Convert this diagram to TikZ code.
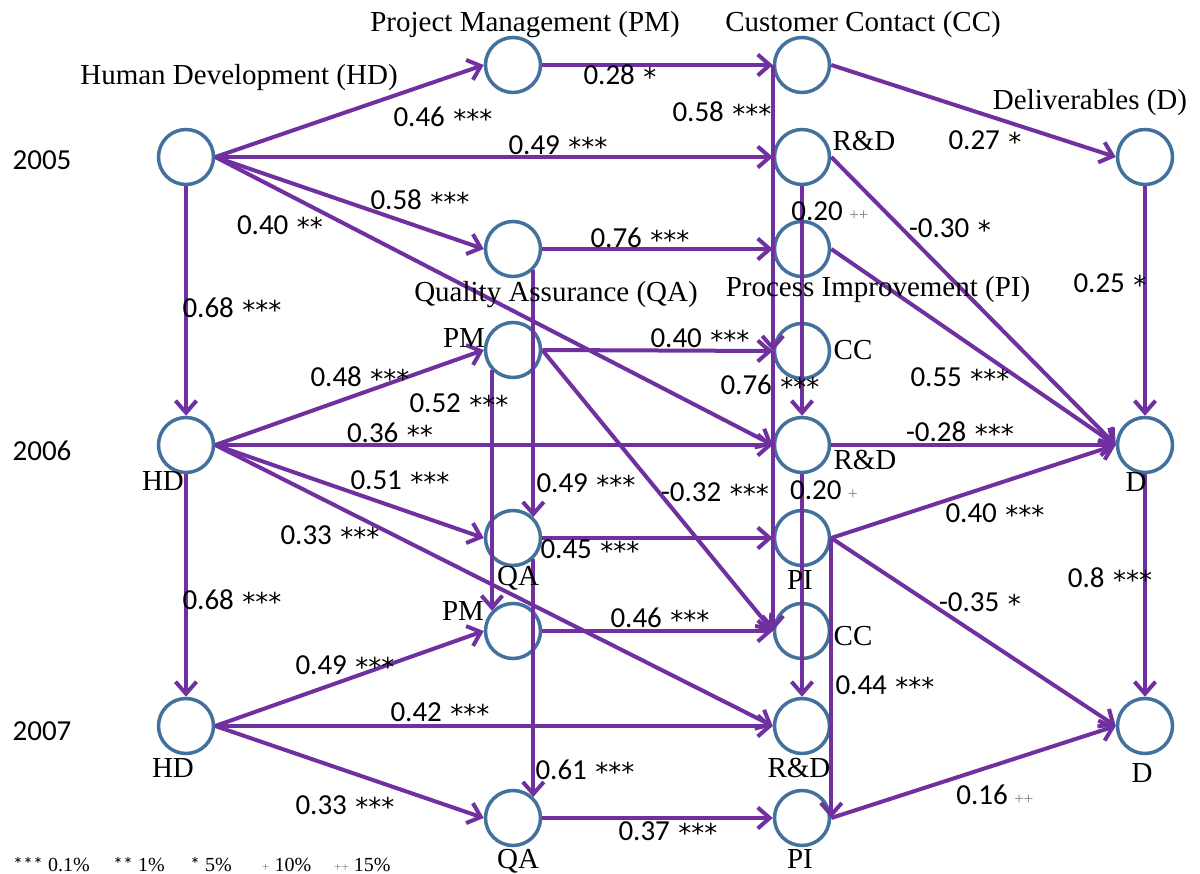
\documentclass[tikz,border=0pt]{standalone}
\usepackage{fontspec}
\setmainfont{Liberation Serif}
\newfontfamily\calfont{Carlito}
\newfontfamily\djv{DejaVu Sans}
\usetikzlibrary{arrows.meta}
\definecolor{pur}{HTML}{7030A0}
\definecolor{nblue}{HTML}{41719C}
\definecolor{pgray}{HTML}{7F7F7F}
\newcommand{\pp}{{\rmfamily\fontsize{17}{17}\selectfont\color{pgray}++}}
\newcommand{\p}{{\rmfamily\fontsize{17}{17}\selectfont\color{pgray}+}}
\newcommand{\sk}[1]{\hspace{2pt}\raisebox{-2.5pt}{\djv\fontsize{26}{26}\selectfont #1}}
\begin{document}
\begin{tikzpicture}[x=1pt,y=-1pt,
  circnode/.style={circle,draw=nblue,line width=3.5pt,minimum size=55pt,inner sep=0pt},
  edge/.style={draw=pur,line width=4pt,line join=round,-{Straight Barb[length=12pt,width=21pt]}},
  numlab/.style={font=\calfont\fontsize{29}{34}\selectfont,inner sep=0pt,anchor=mid,yshift=-7pt},
  nmlab/.style={font=\fontsize{29}{34}\selectfont,inner sep=0pt,anchor=mid,yshift=-7pt},
  leglab/.style={font=\fontsize{20}{20}\selectfont,inner sep=0pt,anchor=base west}
]
\useasboundingbox (0,0) rectangle (1200,874);

% nodes
\node[circnode] (hd5) at (186,157) {};
\node[circnode] (pm5) at (513,65) {};
\node[circnode] (qa5) at (513,249) {};
\node[circnode] (cc5) at (802,65) {};
\node[circnode] (rd5) at (802,157) {};
\node[circnode] (pi5) at (802,249) {};
\node[circnode] (d5) at (1145,157) {};

\node[circnode] (hd6) at (186,445) {};
\node[circnode] (pm6) at (513,350) {};
\node[circnode] (qa6) at (513,538) {};
\node[circnode] (cc6) at (802,351) {};
\node[circnode] (rd6) at (802,445) {};
\node[circnode] (pi6) at (802,538) {};
\node[circnode] (d6) at (1145,445) {};

\node[circnode] (hd7) at (186,726) {};
\node[circnode] (pm7) at (513,631) {};
\node[circnode] (qa7) at (513,818) {};
\node[circnode] (cc7) at (802,631) {};
\node[circnode] (rd7) at (802,726) {};
\node[circnode] (pi7) at (802,818) {};
\node[circnode] (d7) at (1145,726) {};

% edges 2005
\draw[edge] (hd5.east) -- (pm5.west);
\draw[edge] (hd5.east) -- (rd5.west);
\draw[edge] (hd5.east) -- (qa5.west);
\draw[edge] (hd5.east) -- (rd6.west);
\draw[edge] (pm5.east) -- (cc5.west);
\draw[edge] (qa5.east) -- (pi5.west);
\draw[edge] (cc5.east) -- (d5.west);
\draw[edge] (rd5.east) -- (d6.west);
\draw[edge] (pi5.east) -- (d6.west);
\draw[edge] (hd5.south) -- (hd6.north);
\draw[edge] (cc5.west) -- (cc6.west);
\draw[edge] (rd5.south) -- (rd6.north);
\draw[edge] (qa5.314) -- (qa6.46);
\draw[edge] (d5.south) -- (d6.north);

% edges 2006
\draw[edge] (hd6.east) -- (pm6.west);
\draw[edge] (hd6.east) -- (rd6.west);
\draw[edge] (hd6.east) -- (qa6.west);
\draw[edge] (hd6.east) -- (rd7.west);
\draw[edge] (pm6.east) -- (cc6.west);
\draw[edge] (pm6.east) -- (cc7.west);
\draw[edge] (qa6.east) -- (pi6.west);
\draw[edge] (rd6.east) -- (d6.west);
\draw[edge] (pi6.east) -- (d6.west);
\draw[edge] (pi6.east) -- (d7.west);
\draw[edge] (hd6.south) -- (hd7.north);
\draw[edge] (pm6.224) -- (pm7.136);
\draw[edge] (qa6.314) -- (qa7.46);
\draw[edge] (cc6.west) -- (cc7.west);
\draw[edge] (rd6.south) -- (rd7.north);
\draw[edge] (pi6.east) -- (pi7.east);
\draw[edge] (d6.south) -- (d7.north);

% edges 2007
\draw[edge] (hd7.east) -- (pm7.west);
\draw[edge] (hd7.east) -- (rd7.west);
\draw[edge] (hd7.east) -- (qa7.west);
\draw[edge] (pm7.east) -- (cc7.west);
\draw[edge] (qa7.east) -- (pi7.west);
\draw[edge] (pi7.east) -- (d7.west);

% years
\node[numlab] (y5) at (42,160) {2005};
\node[numlab] (y6) at (42,451) {2006};
\node[numlab] (y7) at (42,731) {2007};

% names
\node[nmlab] (nhd) at (239,75) {Human Development (HD)};
\node[nmlab] (npm) at (525,22) {Project Management (PM)};
\node[nmlab] (ncc) at (863,22) {Customer Contact (CC)};
\node[nmlab] (ndl) at (1090,100) {Deliverables (D)};
\node[nmlab] (nrd5) at (864,141) {R\&D};
\node[nmlab] (nqa) at (556,292) {Quality Assurance (QA)};
\node[nmlab] (npi) at (878,287) {Process Improvement (PI)};
\node[nmlab] (npm6) at (464,338) {PM};
\node[nmlab] (ncc6) at (853,350) {CC};
\node[nmlab] (nhd6) at (163,481) {HD};
\node[nmlab] (nrd6) at (865,460) {R\&D};
\node[nmlab] (nd6) at (1136,482) {D};
\node[nmlab] (nqa6) at (518,576) {QA};
\node[nmlab] (npi6) at (800,580) {PI};
\node[nmlab] (npm7) at (463,611) {PM};
\node[nmlab] (ncc7) at (853,636) {CC};
\node[nmlab] (nhd7) at (173,768) {HD};
\node[nmlab] (nrd7) at (799,768) {R\&D};
\node[nmlab] (nd7) at (1142,773) {D};
\node[nmlab] (nqa7) at (518,859) {QA};
\node[nmlab] (npi7) at (800,859) {PI};

% edge labels
\node[numlab] at (443,117) {0.46 \sk{***}};
\node[numlab] at (558,145) {0.49 \sk{***}};
\node[numlab] at (420,200) {0.58 \sk{***}};
\node[numlab] at (280,225) {0.40 \sk{**}};
\node[numlab] at (620,75) {0.28 \sk{*}};
\node[numlab] at (722,112) {0.58 \sk{***}};
\node[numlab] at (985,140) {0.27 \sk{*}};
\node[numlab] at (830,211) {0.20 \pp};
\node[numlab] at (950,228) {-0.30 \sk{*}};
\node[numlab] at (640,238) {0.76 \sk{***}};
\node[numlab] at (1110,283) {0.25 \sk{*}};
\node[numlab] at (232,308) {0.68 \sk{***}};
\node[numlab] at (360,377) {0.48 \sk{***}};
\node[numlab] at (700,338) {0.40 \sk{***}};
\node[numlab] at (459,403) {0.52 \sk{***}};
\node[numlab] at (960,377) {0.55 \sk{***}};
\node[numlab] at (770,385) {0.76 \sk{***}};
\node[numlab] at (390,433) {0.36 \sk{**}};
\node[numlab] at (960,432) {-0.28 \sk{***}};
\node[numlab] at (400,480) {0.51 \sk{***}};
\node[numlab] at (586,483) {0.49 \sk{***}};
\node[numlab] at (715,492) {-0.32 \sk{***}};
\node[numlab] at (824,490) {0.20 \p};
\node[numlab] at (330,535) {0.33 \sk{***}};
\node[numlab] at (995,513) {0.40 \sk{***}};
\node[numlab] at (590,549) {0.45 \sk{***}};
\node[numlab] at (232,600) {0.68 \sk{***}};
\node[numlab] at (980,602) {-0.35 \sk{*}};
\node[numlab] at (1110,578) {0.8 \sk{***}};
\node[numlab] at (660,618) {0.46 \sk{***}};
\node[numlab] at (345,665) {0.49 \sk{***}};
\node[numlab] at (885,685) {0.44 \sk{***}};
\node[numlab] at (440,712) {0.42 \sk{***}};
\node[numlab] at (585,770) {0.61 \sk{***}};
\node[numlab] at (995,795) {0.16 \pp};
\node[numlab] at (345,805) {0.33 \sk{***}};
\node[numlab] at (668,831) {0.37 \sk{***}};

% legend
\node[leglab] (l1) at (13,871) {{\calfont ***} 0.1\%};
\node[leglab] (l2) at (113,871) {{\calfont **} 1\%};
\node[leglab] (l3) at (190,871) {{\calfont *} 5\%};
\node[leglab] (l4) at (262,871) {{\color{pgray}\fontsize{13}{13}\selectfont +} 10\%};
\node[leglab] (l5) at (334,871) {{\color{pgray}\fontsize{13}{13}\selectfont ++} 15\%};
\end{tikzpicture}
\end{document}
